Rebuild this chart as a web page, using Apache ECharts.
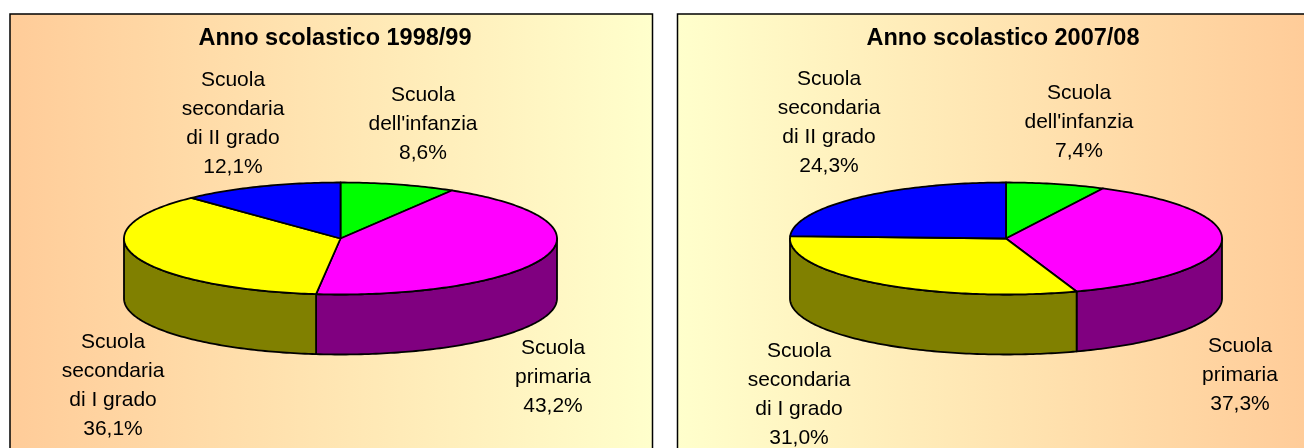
<!DOCTYPE html>
<html><head><meta charset="utf-8">
<style>html,body{margin:0;padding:0;background:#fff}#c{width:1304px;height:448px}</style>
<script src="https://cdn.jsdelivr.net/npm/echarts@6/dist/echarts.min.js"></script>
</head><body><div id="c"></div>
<script>
const categories = ["Scuola\ndell'infanzia", "Scuola\nprimaria", "Scuola\nsecondaria\ndi I grado", "Scuola\nsecondaria\ndi II grado"];
const values1998 = [8.6, 43.2, 36.1, 12.1];
const values2007 = [7.4, 37.3, 31.0, 24.3];
const titles = ["Anno scolastico 1998/99", "Anno scolastico 2007/08"];
const topColors = ["#00FF00", "#FF00FF", "#FFFF00", "#0000FF"];
const sideColors = ["#008000", "#800080", "#808000", "#000080"];
const labelPos1 = [[423, 124], [553, 377], [113, 386], [233, 124]];
const labelPos2 = [[1079, 122], [1240, 375], [799, 395], [829, 123]];
const pieGeom1 = {cx: 340.5, cy: 238.5, rx: 216.5, ry: 56, depth: 60};
const pieGeom2 = {cx: 1006, cy: 238.5, rx: 216, ry: 56, depth: 60};
const FONT = '21px "Liberation Sans", Arial, sans-serif';

function pieSeries(values, geom, labelPos) {
  const total = values.reduce((a, b) => a + b, 0);
  return {
    type: 'custom',
    coordinateSystem: 'none',
    silent: true,
    data: values.map((v, i) => ({value: [v, i], name: categories[i]})),
    renderItem(params, api) {
      const i = api.value(1);
      let before = 0;
      for (let k = 0; k < i; k++) before += values[k];
      const a0 = before / total * 360, a1 = (before + api.value(0)) / total * 360;
      const pt = (deg, dy) => {
        const r = deg * Math.PI / 180;
        return [geom.cx + geom.rx * Math.sin(r), geom.cy - geom.ry * Math.cos(r) + (dy || 0)];
      };
      const arc = (s, e, dy) => {
        const out = [], n = Math.max(2, Math.ceil(Math.abs(e - s)));
        for (let k = 0; k <= n; k++) out.push(pt(s + (e - s) * k / n, dy));
        return out;
      };
      const children = [];
      const s = Math.max(a0, 90), e = Math.min(a1, 270);
      if (e > s) {
        const pts = arc(s, e, 0).concat(arc(e, s, geom.depth));
        children.push({type: 'polygon', shape: {points: pts}, z2: 1,
          style: {fill: sideColors[i], stroke: '#000', lineWidth: 1.8, lineJoin: 'round'}});
      }
      children.push({type: 'polygon', z2: 2, shape: {points: [[geom.cx, geom.cy]].concat(arc(a0, a1, 0))},
        style: {fill: topColors[i], stroke: '#000', lineWidth: 1.8, lineJoin: 'round'}});
      children.push({type: 'text', z2: 3, style: {
        text: categories[i] + '\n' + api.value(0).toFixed(1).replace('.', ',') + '%',
        x: labelPos[i][0], y: labelPos[i][1], align: 'center', verticalAlign: 'middle',
        font: FONT, lineHeight: 29, fill: '#000'}});
      return {type: 'group', children};
    }
  };
}

const grad = (stops) => new echarts.graphic.LinearGradient(0, 0, 1, 0, stops);
const chart = echarts.init(document.getElementById('c'), null, {renderer: 'canvas'});
chart.setOption({
  animation: false,
  backgroundColor: '#fff',
  title: [
    {text: titles[0], left: 330, top: 22, textAlign: 'center',
      textStyle: {fontFamily: '"Liberation Sans"', fontWeight: 'bold', fontSize: 23.5, color: '#000'}},
    {text: titles[1], left: 998, top: 22, textAlign: 'center',
      textStyle: {fontFamily: '"Liberation Sans"', fontWeight: 'bold', fontSize: 23.5, color: '#000'}}
  ],
  graphic: [
    {type: 'rect', z: 0, silent: true, shape: {x: 10, y: 14, width: 642.5, height: 450},
      style: {fill: grad([{offset: 0, color: '#FFCC99'}, {offset: 1, color: '#FFFFCC'}]), stroke: '#000', lineWidth: 1.5}},
    {type: 'rect', z: 0, silent: true, shape: {x: 677.5, y: 14, width: 640, height: 450},
      style: {fill: grad([{offset: 0, color: '#FFFFCC'}, {offset: 0.98, color: '#FFCC99'}, {offset: 1, color: '#FFCC99'}]), stroke: '#000', lineWidth: 1.5}}
  ],
  series: [pieSeries(values1998, pieGeom1, labelPos1), pieSeries(values2007, pieGeom2, labelPos2)]
});
</script></body></html>
